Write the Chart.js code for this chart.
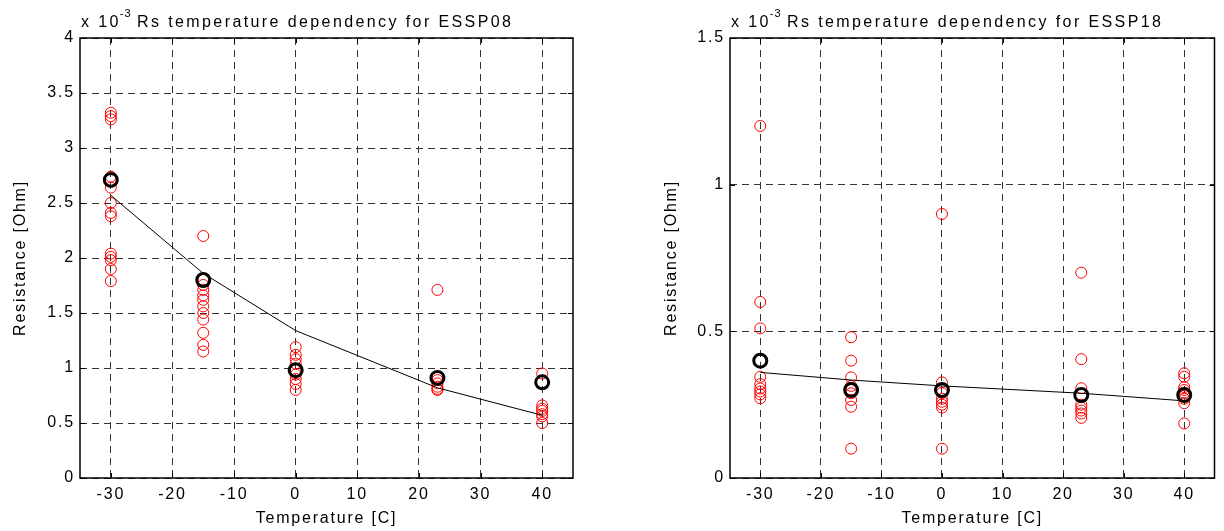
<!DOCTYPE html>
<html>
<head>
<meta charset="utf-8">
<script src="https://cdn.jsdelivr.net/npm/chart.js@4/dist/chart.umd.min.js"></script>
<style>
    body { margin: 0; background: #fff; }
    .plot { position: absolute; top: 0; }
</style>
</head>
<body>
<canvas id="chartLeft" class="plot" width="600" height="531" style="left:0"></canvas>
<canvas id="chartRight" class="plot" width="612" height="531" style="left:612px"></canvas>
<script>
// DATA (resistance values are in units of 10^-3 Ohm)
const temps = [-30, -15, 0, 23, 40];
const xTicks = [-30, -20, -10, 0, 10, 20, 30, 40];

// ESSP08
const yTicks08 = [0, 0.5, 1, 1.5, 2, 2.5, 3, 3.5, 4];
const meas08_m30 = [3.32, 3.29, 3.26, 2.74, 2.71, 2.64, 2.50, 2.41, 2.38, 2.04, 2.01, 1.98, 1.90, 1.79];
const meas08_m15 = [2.20, 1.80, 1.755, 1.71, 1.66, 1.62, 1.56, 1.50, 1.44, 1.32, 1.21, 1.15];
const meas08_0 = [1.19, 1.12, 1.08, 1.04, 0.98, 0.94, 0.90, 0.855, 0.80];
const meas08_23 = [1.71, 0.92, 0.89, 0.86, 0.83, 0.81, 0.80];
const meas08_40 = [0.95, 0.66, 0.63, 0.61, 0.58, 0.56, 0.50];
const mean08 = [2.71, 1.80, 0.98, 0.91, 0.87];
const fit08 = [2.57, 1.86, 1.34, 0.82, 0.57];

// ESSP18
const yTicks18 = [0, 0.5, 1, 1.5];
const meas18_m30 = [1.20, 0.60, 0.51, 0.345, 0.32, 0.305, 0.295, 0.285, 0.272];
const meas18_m15 = [0.48, 0.40, 0.343, 0.314, 0.30, 0.289, 0.266, 0.243, 0.10];
const meas18_0 = [0.90, 0.326, 0.29, 0.27, 0.26, 0.25, 0.24, 0.10];
const meas18_23 = [0.70, 0.405, 0.306, 0.25, 0.24, 0.23, 0.22, 0.205];
const meas18_40 = [0.357, 0.345, 0.31, 0.30, 0.29, 0.28, 0.27, 0.255, 0.186];
const mean18 = [0.40, 0.30, 0.30, 0.283, 0.283];
const fit18 = [0.36, 0.334, 0.314, 0.289, 0.263];

const FONT = '"Liberation Sans", Arial, Helvetica, sans-serif';
const SPACING = '1.8px';       // the exported matlab text is widely spaced
const TITLE_SPACING = '2.4px';

function points(xs, ys) {
    return ys.map(function (y, i) { return {x: xs[i], y: y}; });
}
function column(t, ys) {
    return ys.map(function (y) { return {x: t, y: y}; });
}

// letter spacing for every text the chart draws
const spacedText = {
    id: 'spacedText',
    beforeLayout: function (chart) { chart.ctx.letterSpacing = SPACING; },
    beforeDraw: function (chart) { chart.ctx.letterSpacing = SPACING; }
};

// box, inward ticks and the matlab style "x 10^-3" + title
const matlabBox = {
    id: 'matlabBox',
    afterDraw: function (chart, args, opts) {
        const c = chart.ctx;
        const a = chart.chartArea;
        const xs = chart.scales.x, ys = chart.scales.y;
        c.save();
        c.strokeStyle = '#000';
        c.lineWidth = 1;
        c.beginPath();
        xs.ticks.forEach(function (t) {
            const px = Math.round(xs.getPixelForValue(t.value)) + 0.5;
            c.moveTo(px, a.bottom); c.lineTo(px, a.bottom - 5);
            c.moveTo(px, a.top); c.lineTo(px, a.top + 5);
        });
        ys.ticks.forEach(function (t) {
            const py = Math.round(ys.getPixelForValue(t.value)) + 0.5;
            c.moveTo(a.left, py); c.lineTo(a.left + 5, py);
            c.moveTo(a.right, py); c.lineTo(a.right - 5, py);
        });
        c.stroke();
        c.lineWidth = 1.5;
        c.strokeRect(a.left, a.top, a.right - a.left, a.bottom - a.top);

        c.fillStyle = '#000';
        c.textBaseline = 'alphabetic';
        c.textAlign = 'left';
        c.letterSpacing = TITLE_SPACING;
        c.font = '16px ' + FONT;
        c.fillText('x 10', a.left + 1, 27);
        const w = c.measureText('x 10').width;
        c.font = '11px ' + FONT;
        c.letterSpacing = '1px';
        c.fillText('-3', a.left + w, 17);
        c.letterSpacing = TITLE_SPACING;
        c.font = '16px ' + FONT;
        c.fillText(opts.text, a.left + 57, 27);
        c.restore();
    }
};

function makeChart(id, title, yMax, yTicks, meas, mean, fit, yWidth, padRight, yTitlePad) {
    var ctx = document.getElementById(id).getContext('2d');
    ctx.letterSpacing = SPACING;
    var red = [];
    meas.forEach(function (ys, i) { red = red.concat(column(temps[i], ys)); });
    return new Chart(ctx, {
        type: 'scatter',
        data: {
            datasets: [{
                label: 'mean', // black rings
                data: points(temps, mean),
                pointStyle: 'circle',
                pointRadius: 6.5,
                pointBorderWidth: 3,
                borderColor: '#000',
                backgroundColor: 'rgba(0,0,0,0)'
            }, {
                label: 'fit', // thin black curve
                data: points(temps, fit),
                showLine: true,
                pointRadius: 0,
                borderWidth: 1,
                borderColor: '#000',
                tension: 0
            }, {
                label: 'measurements', // red rings
                data: red,
                pointStyle: 'circle',
                pointRadius: 5.5,
                pointBorderWidth: 1,
                borderColor: '#ff0000',
                backgroundColor: 'rgba(0,0,0,0)'
            }]
        },
        options: {
            responsive: false,
            animation: false,
            layout: { padding: { top: 38, right: padRight, left: 0, bottom: 0 } },
            scales: {
                x: {
                    type: 'linear',
                    min: -35,
                    max: 45,
                    afterBuildTicks: function (s) { s.ticks = xTicks.map(function (v) { return {value: v}; }); },
                    afterFit: function (s) { s.height = 53; s.paddingLeft = 0; s.paddingRight = 0; },
                    border: { display: false, dash: [7, 5] },
                    grid: { drawTicks: false, color: '#333', lineWidth: 1 },
                    ticks: {
                        padding: 7,
                        color: '#000',
                        font: { family: FONT, size: 16 },
                        callback: function (v) { return String(v); }
                    },
                    title: {
                        display: true,
                        text: 'Temperature [C]',
                        color: '#000',
                        font: { family: FONT, size: 16 },
                        padding: { top: 0, bottom: 3 }
                    }
                },
                y: {
                    type: 'linear',
                    min: 0,
                    max: yMax,
                    afterBuildTicks: function (s) { s.ticks = yTicks.map(function (v) { return {value: v}; }); },
                    afterFit: function (s) { s.width = yWidth; s.paddingTop = 0; s.paddingBottom = 0; },
                    border: { display: false, dash: [7, 5] },
                    grid: { drawTicks: false, color: '#333', lineWidth: 1 },
                    ticks: {
                        padding: 5,
                        color: '#000',
                        font: { family: FONT, size: 16 },
                        callback: function (v) { return String(v); }
                    },
                    title: {
                        display: true,
                        text: 'Resistance [Ohm]',
                        color: '#000',
                        font: { family: FONT, size: 16 },
                        padding: { top: yTitlePad, bottom: 0 }
                    }
                }
            },
            plugins: {
                legend: { display: false },
                tooltip: { enabled: false },
                matlabBox: { text: title }
            }
        },
        plugins: [spacedText, matlabBox]
    });
}

var leftChart = makeChart('chartLeft', 'Rs temperature dependency for ESSP08', 4, yTicks08,
    [meas08_m30, meas08_m15, meas08_0, meas08_23, meas08_40], mean08, fit08, 80, 27, 11);
var rightChart = makeChart('chartRight', 'Rs temperature dependency for ESSP18', 1.5, yTicks18,
    [meas18_m30, meas18_m15, meas18_0, meas18_23, meas18_40], mean18, fit18, 118, 2, 50);
</script>
</body>
</html>
